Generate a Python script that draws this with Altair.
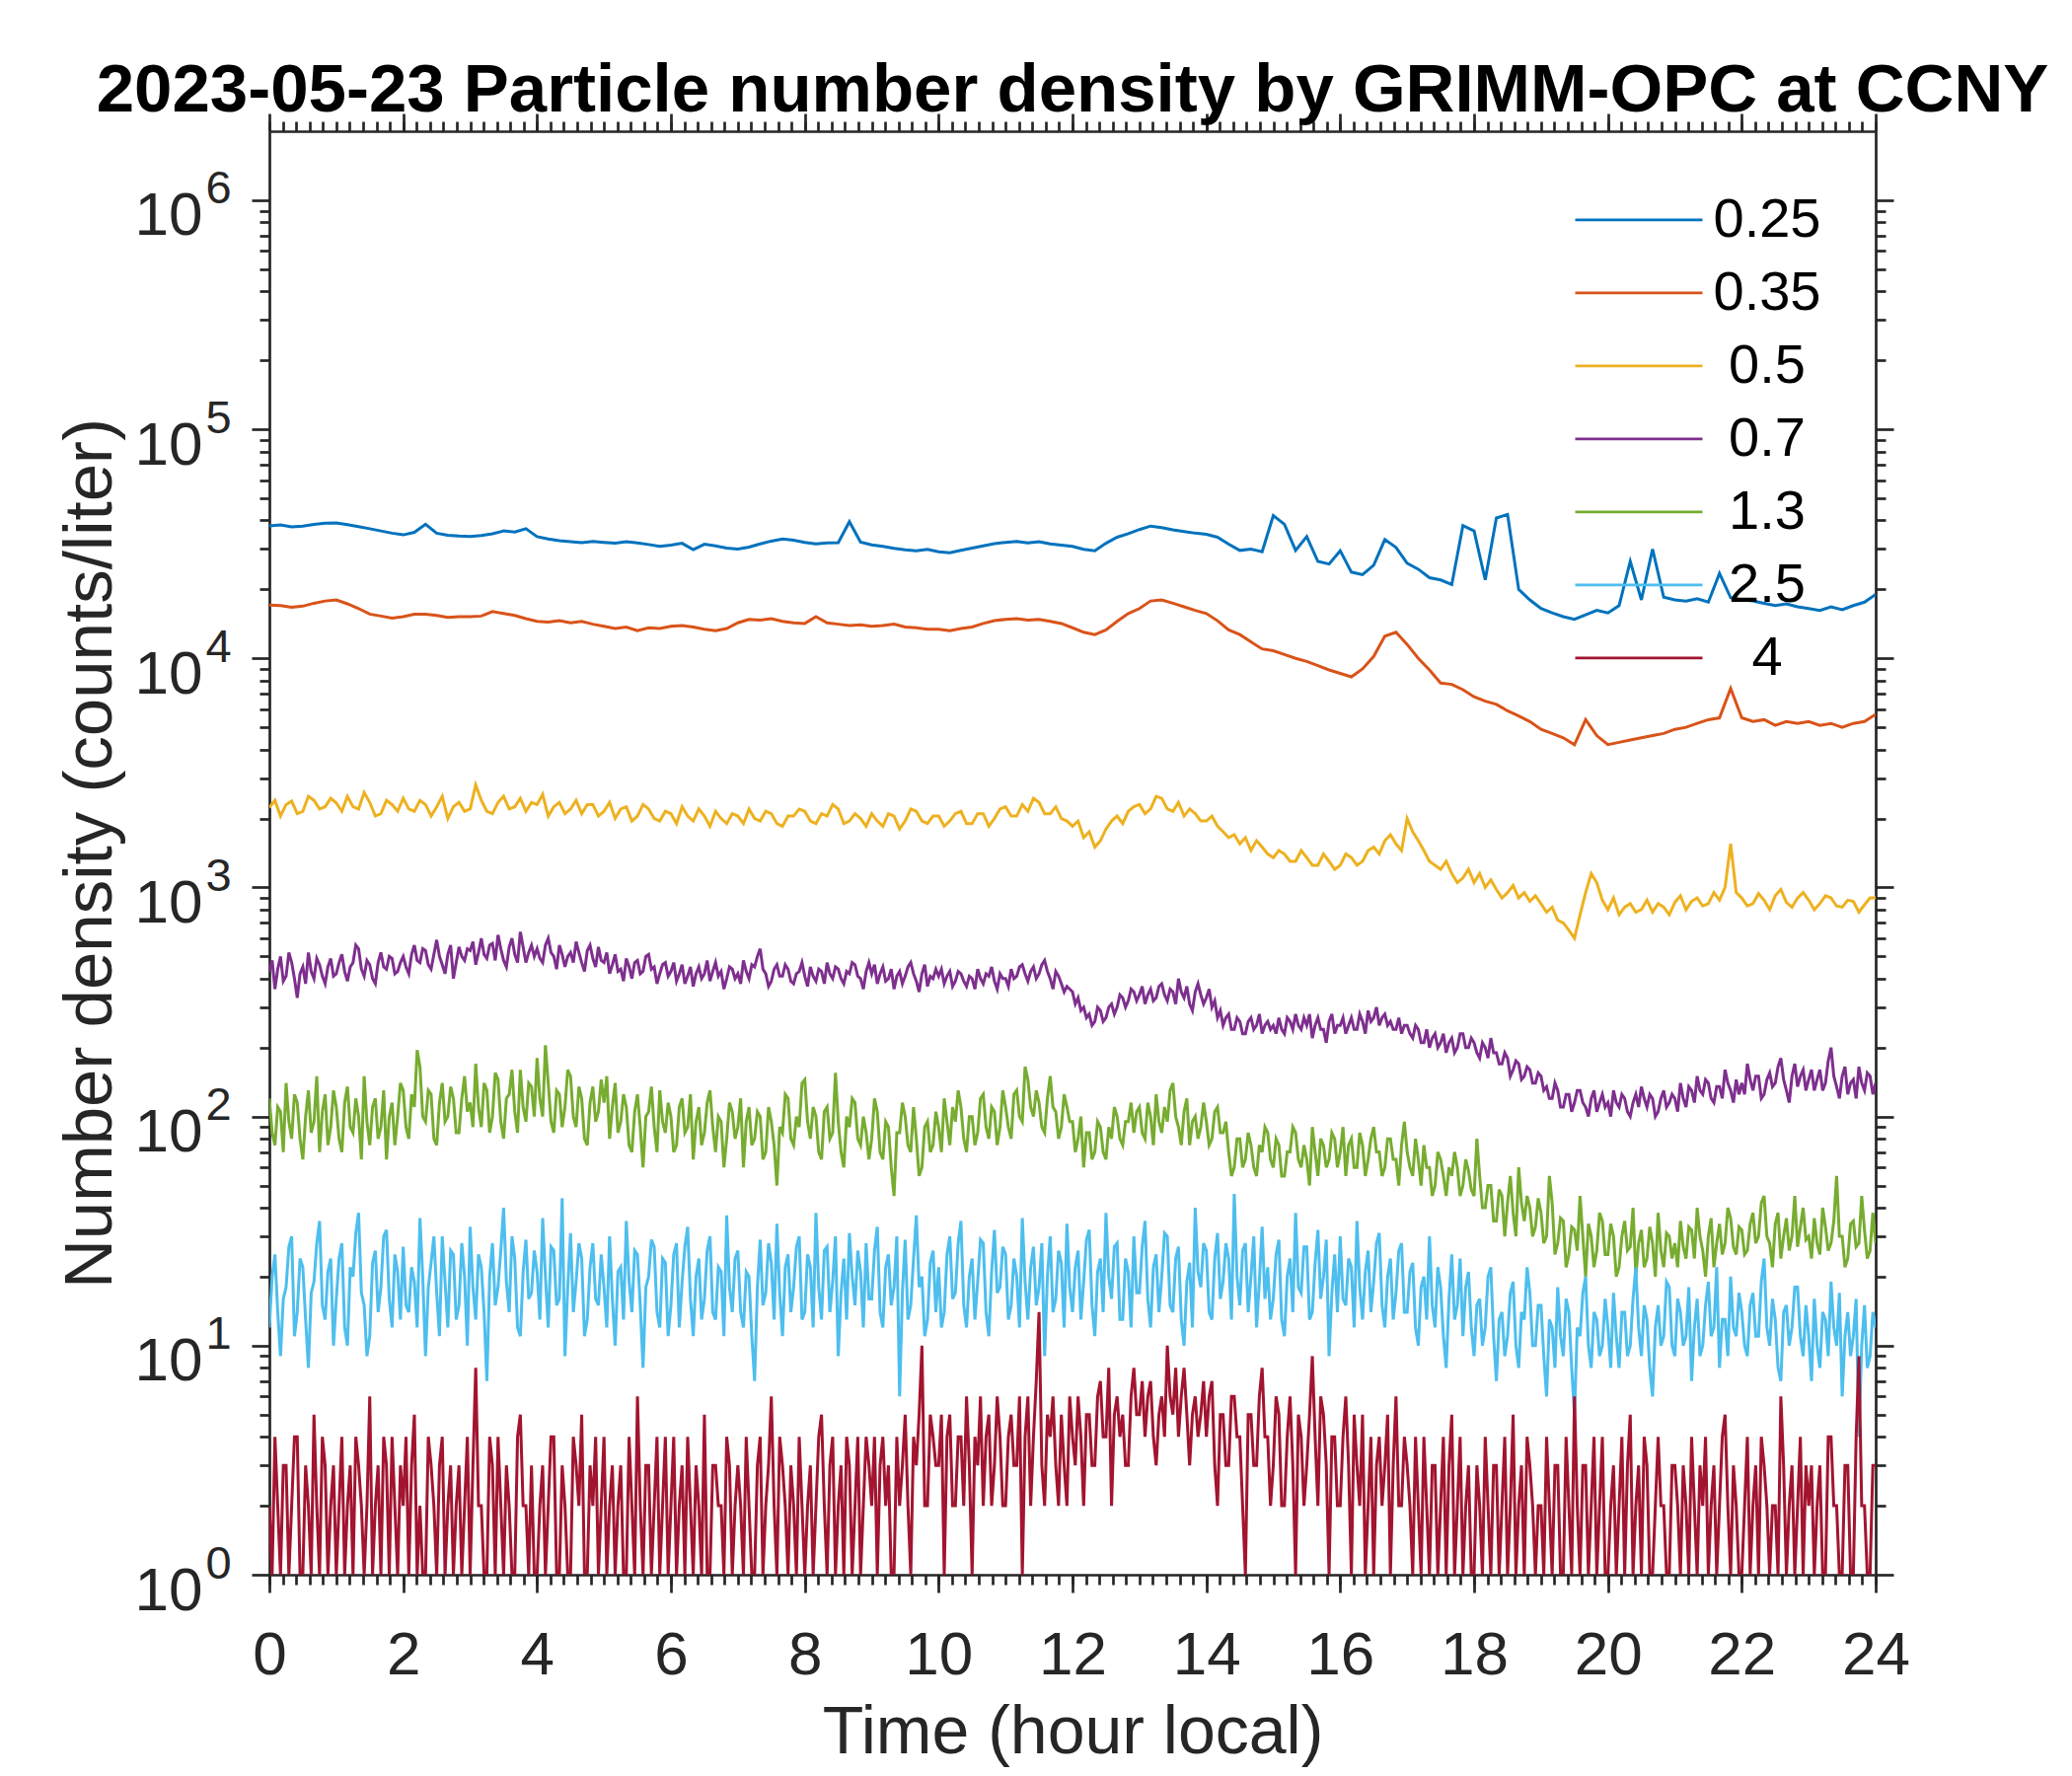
import altair as alt
import pandas as pd

FONT = "Liberation Sans"
DARK = "#262626"

sizes = ["0.25", "0.35", "0.5", "0.7", "1.3", "2.5", "4"]
colors = ["#0072BD", "#D95319", "#EDB120", "#7E2F8E", "#77AC30", "#4DBEEE", "#A2142F"]

# 0.25 um channel, 10-min samples from 0 to 24 h
s025 = [
    37900, 38200, 37500, 37800, 38400, 38900,
    39000, 38300, 37600, 36800, 36000, 35200,
    34600, 35500, 38500, 35200, 34500, 34200,
    34000, 34400, 35000, 36000, 35600, 36800,
    34000, 33200, 32600, 32300, 32000, 32400,
    32100, 31800, 32300, 31900, 31400, 30800,
    31200, 31800, 29800, 31500, 31000, 30300,
    30000, 30600, 31600, 32500, 33200, 32800,
    32100, 31600, 31900, 32000, 39500, 32200,
    31300, 30800, 30200, 29800, 29500, 29900,
    29200, 28900, 29600, 30300, 31000, 31700,
    32100, 32400, 31900, 32300, 31600, 31200,
    30800, 29900, 29500, 31800, 33800, 35000,
    36500, 37800, 37200, 36400, 35800, 35200,
    34800, 33800, 31500, 29600, 30000, 29200,
    42000, 38500, 29600, 34000, 26500, 25800,
    29500, 23800, 23200, 25500, 33000, 30500,
    26000, 24500, 22500, 22000, 21000, 38000,
    36000, 22000, 41000, 42500, 20000, 18000,
    16500, 15800, 15200, 14800, 15500, 16200,
    15800, 17000, 26500, 18000, 30000, 18500,
    18000, 17800, 18200, 17600, 23500, 18400,
    18000, 17800, 17400, 17000, 17300, 16800,
    16500, 16200, 16800, 16300, 17000, 17600,
    19000,
]

# 0.35 um channel, 10-min samples
s035 = [
    17100, 17000, 16700, 16900, 17400, 17800,
    18000, 17300, 16500, 15600, 15300, 15000,
    15200, 15600, 15600, 15400, 15100, 15200,
    15200, 15300, 16000, 15700, 15400, 14900,
    14500, 14400, 14600, 14300, 14500, 14100,
    13800, 13500, 13700, 13200, 13600, 13500,
    13800, 13900, 13700, 13400, 13200, 13500,
    14300, 14800, 14700, 14900, 14500, 14300,
    14200, 15200, 14300, 14100, 13900, 14000,
    13800, 13900, 14100, 13700, 13600, 13400,
    13400, 13200, 13500, 13700, 14200, 14600,
    14800, 14900, 14700, 14800, 14500, 14200,
    13600, 13000, 12700, 13300, 14500, 15700,
    16500, 17800, 18000, 17400, 16800, 16200,
    15700, 14600, 13300, 12700, 11800, 11000,
    10800, 10400, 10000, 9700, 9300, 8900,
    8600, 8300, 9000, 10200, 12500, 13000,
    11500, 10000, 8900, 7800, 7700, 7300,
    6800, 6500, 6300, 5900, 5600, 5300,
    4900, 4700, 4500, 4200, 5400, 4600,
    4200, 4300, 4400, 4500, 4600, 4700,
    4900, 5000, 5200, 5400, 5500, 7400,
    5500, 5300, 5400, 5100, 5300, 5200,
    5300, 5100, 5200, 5000, 5200, 5300,
    5700,
]

# 0.5 um channel, 5-min samples
s05 = [
    2230, 2400, 2050, 2300, 2380, 2100, 2150, 2500, 2400, 2200, 2250, 2450,
    2340, 2150, 2500, 2250, 2200, 2600, 2350, 2050, 2100, 2400, 2300, 2150,
    2450, 2200, 2150, 2400, 2300, 2050, 2250, 2500, 2000, 2250, 2350, 2150,
    2200, 2800, 2400, 2150, 2100, 2350, 2500, 2200, 2250, 2450, 2150, 2350,
    2300, 2550, 2050, 2250, 2350, 2100, 2200, 2400, 2100, 2300, 2300, 2050,
    2150, 2350, 2000, 2200, 2250, 1950, 2050, 2300, 2200, 2000, 1950, 2150,
    2100, 1900, 2250, 2050, 1950, 2200, 2050, 1850, 2150, 2000, 1900, 2100,
    2050, 1900, 2200, 2000, 1950, 2150, 2100, 1900, 1850, 2050, 2050, 2200,
    2150, 1950, 1900, 2100, 2050, 2300, 2200, 1900, 1950, 2100, 2000, 1850,
    2100, 1950, 1850, 2100, 2050, 1800, 1950, 2200, 2150, 1950, 1900, 2050,
    2050, 1850, 1950, 2100, 2150, 1900, 1900, 2100, 2100, 1850, 2000, 2200,
    2250, 2050, 2050, 2300, 2150, 2450, 2350, 2100, 2100, 2250, 2000, 1950,
    1850, 1950, 1650, 1750, 1500, 1600, 1800, 1950, 2050, 1900, 2150, 2250,
    2300, 2100, 2200, 2500, 2450, 2200, 2150, 2350, 2050, 2200, 2100, 1950,
    1950, 2050, 1850, 1750, 1650, 1700, 1550, 1650, 1450, 1600, 1500, 1400,
    1350, 1450, 1400, 1300, 1300, 1450, 1350, 1250, 1250, 1400, 1300, 1200,
    1250, 1400, 1350, 1250, 1300, 1450, 1500, 1400, 1600, 1700, 1550, 1450,
    2000, 1750, 1600, 1450, 1300, 1250, 1200, 1300, 1150, 1050, 1100, 1200,
    1050, 1150, 1000, 1080, 980, 900, 950, 1020, 900, 950, 870, 920,
    850, 780, 820, 720, 700, 650, 600, 760, 950, 1150, 1050, 880,
    800, 900, 760, 820, 850, 780, 800, 880, 780, 850, 820, 760,
    860, 920, 800, 870, 900, 830, 850, 950, 880, 1000, 1550, 950,
    900, 830, 850, 940, 880, 800, 920, 980, 860, 820, 900, 950,
    880, 800, 850, 920, 900, 830, 820, 880, 870, 780, 840, 900,
    900,
]

# 0.7 um channel, 2.5-min samples
s07 = [
    430, 480, 360, 440, 500, 390, 410, 520, 470, 400, 330, 420, 450, 380, 520, 430, 400, 490, 460, 410, 380, 450, 490, 410,
    420, 470, 510, 430, 390, 450, 470, 560, 540, 440, 410, 480, 460, 400, 380, 470, 520, 450, 440, 500, 490, 420, 430, 470,
    500, 450, 420, 510, 560, 480, 470, 540, 530, 460, 440, 510, 590, 500, 460, 420, 510, 560, 400, 470, 550, 500, 480, 540,
    530, 580, 460, 520, 600, 510, 490, 560, 570, 480, 620, 540, 480, 450, 550, 600, 510, 470, 640, 550, 470, 520, 560, 500,
    540, 490, 470, 560, 600, 520, 500, 440, 560, 510, 450, 500, 520, 470, 580, 520, 470, 430, 530, 560, 490, 450, 550, 480,
    470, 520, 420, 460, 510, 430, 440, 390, 490, 450, 400, 470, 480, 420, 430, 500, 510, 440, 450, 380, 420, 460, 470, 410,
    430, 470, 390, 420, 460, 380, 410, 450, 370, 420, 450, 400, 420, 480, 390, 430, 470, 410, 430, 360, 400, 450, 440, 400,
    420, 380, 480, 430, 400, 460, 450, 500, 540, 440, 420, 370, 390, 440, 460, 410, 410, 460, 440, 390, 380, 420, 430, 470,
    410, 370, 450, 410, 390, 440, 430, 380, 470, 420, 400, 450, 440, 400, 380, 430, 420, 470, 460, 410, 400, 360, 430, 470,
    420, 460, 380, 420, 450, 390, 400, 440, 360, 410, 430, 380, 410, 450, 470, 420, 390, 350, 420, 460, 370, 410, 400, 440,
    410, 440, 380, 410, 430, 370, 390, 430, 420, 390, 370, 410, 400, 360, 440, 400, 380, 420, 410, 450, 390, 360, 420, 400,
    400, 370, 440, 400, 410, 450, 460, 420, 390, 430, 450, 400, 420, 460, 480, 430, 400, 360, 430, 410, 380, 350, 370, 360,
    350, 310, 330, 290, 300, 270, 280, 250, 260, 300, 290, 260, 270, 300, 310, 280, 300, 340, 330, 300, 320, 360, 350, 320,
    340, 370, 310, 340, 360, 320, 330, 370, 380, 340, 320, 360, 350, 310, 400, 350, 330, 370, 310, 290, 350, 380, 340, 310,
    330, 360, 300, 320, 270, 290, 250, 270, 280, 240, 240, 270, 260, 230, 230, 260, 270, 240, 250, 280, 230, 250, 260, 240,
    250, 230, 270, 240, 230, 270, 260, 240, 280, 250, 240, 270, 250, 280, 220, 250, 270, 240, 240, 210, 260, 280, 230, 250,
    250, 270, 230, 250, 270, 240, 240, 280, 260, 230, 290, 260, 270, 300, 250, 270, 280, 250, 260, 240, 240, 270, 230, 250,
    250, 230, 220, 250, 240, 210, 210, 240, 200, 220, 230, 200, 210, 230, 190, 210, 220, 190, 200, 230, 230, 200, 200, 220,
    210, 190, 180, 210, 200, 180, 220, 190, 190, 170, 170, 190, 180, 150, 160, 175, 170, 145, 150, 165, 160, 140, 140, 155,
    150, 130, 135, 120, 120, 140, 130, 110, 110, 125, 125, 105, 115, 130, 130, 115, 110, 100, 120, 130, 105, 115, 125, 110,
    115, 100, 130, 115, 110, 125, 120, 105, 100, 115, 125, 110, 135, 120, 110, 125, 120, 100, 105, 120, 130, 110, 115, 125,
    120, 105, 140, 120, 110, 135, 130, 115, 150, 130, 125, 145, 140, 120, 115, 135, 135, 120, 160, 140, 130, 115, 145, 125,
    140, 125, 170, 145, 130, 150, 150, 120, 125, 145, 155, 135, 140, 165, 180, 145, 130, 115, 150, 170, 135, 150, 160, 130,
    145, 160, 130, 145, 160, 130, 140, 175, 200, 150, 135, 120, 150, 165, 125, 140, 145, 120, 165, 140, 130, 155, 150, 125,
    140,
]

# 1.3 um channel, 2.5-min samples
s13 = [
    120, 85, 75, 110, 105, 70, 140, 95, 80, 125, 115, 80, 65, 100, 130, 85, 95, 150, 70, 105, 125, 75, 90, 130,
    110, 80, 70, 115, 135, 90, 85, 120, 100, 65, 150, 95, 75, 110, 120, 80, 90, 130, 65, 100, 115, 75, 100, 140,
    130, 90, 80, 125, 110, 195, 165, 100, 95, 130, 125, 80, 75, 115, 140, 95, 100, 135, 120, 85, 85, 120, 150, 105,
    115, 90, 170, 110, 90, 140, 130, 85, 100, 155, 145, 95, 80, 120, 125, 160, 105, 85, 160, 110, 95, 140, 135, 100,
    180, 120, 100, 205, 140, 95, 85, 130, 125, 90, 110, 160, 150, 100, 90, 135, 120, 80, 75, 115, 135, 95, 105, 145,
    115, 150, 80, 110, 140, 85, 95, 125, 110, 75, 70, 105, 125, 90, 60, 100, 105, 135, 90, 70, 130, 95, 85, 115,
    100, 70, 75, 110, 120, 85, 90, 125, 65, 95, 110, 75, 85, 115, 130, 90, 70, 100, 95, 60, 80, 115, 105, 80,
    90, 120, 60, 95, 110, 75, 80, 105, 100, 65, 70, 110, 95, 75, 50, 90, 85, 125, 120, 80, 75, 100, 90, 140,
    145, 95, 80, 110, 100, 70, 65, 105, 110, 80, 85, 155, 95, 70, 60, 100, 90, 120, 115, 80, 75, 100, 85, 65,
    80, 120, 105, 70, 65, 95, 90, 60, 45, 85, 85, 115, 100, 75, 70, 110, 80, 55, 60, 90, 95, 70, 75, 105,
    90, 70, 120, 95, 75, 110, 95, 130, 110, 80, 70, 100, 100, 75, 85, 120, 125, 90, 80, 110, 105, 75, 90, 130,
    110, 90, 80, 125, 130, 100, 95, 165, 145, 110, 100, 130, 115, 90, 85, 120, 150, 110, 105, 80, 90, 125, 110, 95,
    95, 70, 80, 100, 60, 85, 85, 65, 70, 95, 90, 70, 65, 90, 80, 110, 100, 80, 75, 95, 95, 115, 85, 105,
    110, 85, 80, 115, 100, 75, 125, 95, 85, 110, 95, 130, 140, 100, 90, 75, 105, 120, 75, 95, 100, 80, 90, 115,
    95, 75, 80, 105, 110, 85, 85, 95, 70, 55, 60, 80, 80, 60, 65, 85, 75, 60, 55, 75, 70, 90, 85, 65,
    60, 80, 75, 55, 55, 70, 70, 90, 85, 65, 60, 75, 65, 50, 90, 70, 55, 80, 75, 60, 65, 85, 80, 60,
    70, 90, 55, 75, 80, 60, 60, 85, 75, 55, 65, 80, 90, 70, 70, 55, 60, 80, 80, 65, 65, 50, 75, 95,
    70, 60, 55, 80, 65, 50, 75, 60, 60, 45, 50, 70, 65, 55, 45, 60, 55, 70, 60, 45, 50, 65, 58, 48,
    45, 80, 55, 40, 40, 50, 50, 35, 35, 48, 45, 30, 42, 55, 38, 30, 60, 42, 35, 45, 40, 30, 33, 44,
    38, 28, 30, 55, 42, 25, 28, 36, 35, 22, 25, 33, 32, 26, 45, 30, 20, 34, 30, 22, 26, 38, 35, 25,
    25, 34, 30, 20, 22, 30, 35, 26, 27, 40, 20, 28, 32, 22, 24, 33, 28, 20, 38, 26, 22, 31, 30, 24,
    28, 22, 35, 27, 24, 33, 32, 24, 40, 30, 26, 20, 30, 36, 22, 28, 34, 25, 28, 40, 36, 27, 25, 33,
    32, 25, 26, 34, 38, 28, 30, 42, 45, 30, 28, 22, 34, 38, 24, 30, 36, 26, 30, 45, 27, 33, 40, 29,
    30, 24, 36, 28, 25, 40, 33, 26, 28, 35, 55, 30, 30, 22, 24, 34, 35, 27, 28, 45, 32, 24, 26, 38,
    28,
]

# 2.5 um channel, 2.5-min samples
s25 = [
    12, 20, 25, 14, 9, 16, 18, 27, 30, 11, 14, 24, 22, 13, 8, 17, 19, 28, 35, 15, 13, 21, 24, 10,
    16, 24, 28, 12, 10, 22, 20, 31, 38, 17, 15, 9, 11, 23, 26, 14, 18, 30, 32, 16, 12, 25, 21, 13,
    27, 15, 14, 22, 19, 12, 36, 20, 9, 18, 23, 30, 17, 11, 30, 19, 12, 26, 25, 13, 15, 28, 20, 10,
    33, 18, 13, 25, 22, 14, 7, 20, 28, 15, 18, 26, 40, 19, 14, 30, 24, 12, 11, 21, 29, 16, 17, 26,
    21, 13, 36, 20, 12, 27, 26, 15, 16, 44, 9, 18, 31, 14, 19, 28, 24, 11, 13, 22, 28, 16, 15, 25,
    18, 12, 30, 16, 10, 21, 22, 13, 35, 19, 14, 26, 25, 15, 8, 18, 20, 29, 27, 14, 12, 24, 23, 11,
    15, 25, 28, 12, 19, 27, 33, 16, 11, 20, 24, 13, 16, 26, 30, 14, 13, 22, 21, 11, 37, 18, 14, 24,
    26, 14, 12, 21, 20, 11, 7, 18, 29, 15, 17, 28, 23, 13, 34, 17, 11, 22, 25, 14, 18, 27, 30, 13,
    14, 25, 22, 12, 38, 18, 13, 26, 27, 14, 19, 30, 9, 17, 24, 13, 31, 20, 15, 26, 21, 12, 28, 16,
    16, 26, 33, 14, 12, 22, 25, 15, 18, 30, 6, 17, 29, 13, 15, 24, 37, 18, 20, 11, 13, 23, 26, 14,
    22, 12, 14, 25, 30, 16, 17, 28, 35, 15, 12, 20, 24, 13, 19, 29, 28, 14, 11, 21, 32, 17, 18, 27,
    25, 13, 15, 24, 20, 12, 36, 19, 13, 22, 27, 15, 18, 28, 9, 20, 30, 14, 16, 26, 23, 12, 34, 18,
    14, 22, 26, 13, 19, 29, 32, 15, 11, 21, 24, 14, 38, 20, 16, 27, 28, 13, 13, 24, 21, 12, 30, 17,
    17, 27, 35, 16, 12, 22, 25, 14, 20, 31, 30, 15, 14, 24, 27, 13, 10, 19, 23, 12, 40, 21, 18, 28,
    26, 14, 13, 24, 31, 16, 19, 28, 24, 13, 46, 20, 15, 26, 28, 14, 20, 30, 12, 19, 33, 16, 22, 13,
    16, 25, 29, 13, 11, 20, 24, 14, 38, 18, 17, 27, 27, 13, 14, 23, 32, 16, 20, 29, 9, 17, 25, 14,
    30, 16, 15, 24, 22, 12, 35, 18, 13, 21, 26, 14, 19, 28, 31, 15, 12, 20, 24, 13, 17, 26, 28, 14,
    14, 21, 23, 12, 10, 18, 20, 13, 30, 15, 12, 22, 18, 11, 8, 16, 25, 13, 15, 24, 11, 18, 21, 12,
    9, 15, 16, 10, 12, 20, 22, 11, 7, 13, 14, 9, 11, 17, 19, 10, 8, 14, 13, 22, 17, 10, 10, 15,
    15, 9, 6, 13, 12, 8, 18, 11, 9, 16, 14, 8, 5, 12, 11, 17, 20, 10, 8, 14, 13, 9, 10, 16,
    12, 8, 17, 11, 8, 14, 14, 9, 10, 16, 22, 12, 9, 15, 13, 8, 6, 12, 15, 10, 11, 19, 18, 10,
    9, 16, 14, 10, 11, 18, 7, 12, 16, 9, 10, 15, 19, 11, 12, 22, 8, 13, 13, 9, 20, 12, 11, 17,
    14, 10, 9, 15, 17, 11, 11, 19, 24, 12, 10, 16, 13, 8, 7, 14, 15, 10, 12, 18, 18, 11, 9, 15,
    11, 7, 16, 10, 8, 14, 13, 9, 19, 12, 10, 17, 6, 11, 14, 9, 11, 16, 4, 10, 15, 8, 9, 14,
    12,
]

# 4 um channel, 2.5-min samples
s4 = [
    2, 1, 4, 2, 1, 3, 3, 1, 2, 4, 4, 1, 1, 3, 2, 1, 5, 2, 1, 4, 3, 1, 2, 3,
    1, 2, 4, 1, 2, 3, 1, 4, 3, 2, 1, 2, 6, 1, 2, 3, 1, 4, 3, 1, 4, 2, 1, 3,
    2, 4, 1, 3, 5, 1, 2, 1, 1, 4, 3, 2, 1, 3, 4, 1, 2, 3, 1, 2, 3, 1, 2, 4,
    1, 3, 8, 2, 2, 1, 1, 4, 3, 1, 4, 2, 1, 3, 2, 1, 1, 4, 5, 2, 2, 1, 3, 1,
    1, 2, 3, 1, 2, 4, 4, 1, 1, 3, 2, 1, 1, 4, 3, 2, 5, 1, 1, 3, 2, 4, 1, 2,
    4, 1, 2, 3, 1, 2, 3, 1, 1, 4, 2, 1, 6, 2, 1, 3, 3, 1, 2, 4, 1, 2, 4, 1,
    2, 4, 1, 2, 3, 1, 4, 2, 1, 3, 2, 1, 5, 1, 1, 3, 3, 2, 2, 1, 4, 3, 1, 2,
    3, 2, 1, 4, 2, 1, 1, 3, 4, 1, 2, 3, 6, 2, 1, 4, 3, 2, 1, 3, 2, 1, 4, 2,
    1, 2, 3, 1, 2, 4, 5, 2, 1, 3, 4, 1, 2, 3, 1, 4, 3, 1, 2, 4, 1, 2, 4, 3,
    2, 4, 1, 3, 4, 2, 3, 1, 1, 4, 2, 3, 5, 2, 1, 4, 3, 5, 10, 2, 2, 5, 4, 3,
    3, 5, 1, 4, 5, 2, 2, 4, 4, 2, 6, 3, 1, 4, 3, 6, 2, 4, 5, 2, 3, 6, 4, 2,
    2, 4, 5, 3, 3, 6, 1, 4, 6, 2, 4, 7, 14, 3, 2, 5, 4, 6, 3, 2, 5, 3, 2, 6,
    4, 3, 6, 4, 2, 5, 5, 3, 3, 6, 7, 4, 4, 8, 2, 5, 6, 4, 5, 3, 3, 6, 8, 5,
    5, 7, 4, 6, 7, 4, 3, 5, 6, 4, 10, 6, 5, 8, 4, 6, 8, 5, 3, 5, 6, 4, 5, 7,
    4, 6, 7, 3, 2, 5, 5, 3, 3, 6, 6, 4, 4, 2, 1, 5, 5, 3, 3, 6, 8, 4, 4, 2,
    3, 6, 5, 2, 2, 4, 6, 3, 1, 5, 4, 2, 3, 5, 9, 4, 2, 6, 5, 3, 1, 4, 4, 2,
    2, 4, 6, 3, 1, 5, 3, 2, 5, 1, 2, 4, 1, 3, 4, 2, 3, 5, 1, 3, 6, 2, 2, 4,
    3, 2, 1, 4, 2, 1, 4, 2, 1, 3, 3, 1, 2, 4, 1, 3, 5, 1, 2, 4, 1, 2, 3, 1,
    1, 3, 2, 1, 4, 2, 1, 3, 3, 1, 2, 4, 1, 2, 5, 1, 2, 3, 1, 4, 3, 2, 1, 2,
    2, 1, 4, 2, 1, 3, 3, 1, 1, 4, 2, 1, 6, 2, 1, 3, 3, 1, 2, 4, 1, 2, 4, 1,
    1, 2, 3, 1, 2, 4, 1, 3, 5, 1, 2, 3, 1, 4, 3, 1, 1, 2, 4, 2, 2, 1, 1, 3,
    3, 2, 1, 3, 2, 1, 4, 2, 1, 3, 2, 4, 1, 2, 3, 1, 2, 4, 5, 2, 1, 3, 2, 1,
    1, 2, 4, 1, 2, 3, 1, 4, 3, 2, 1, 2, 2, 1, 6, 3, 1, 2, 3, 1, 2, 4, 1, 3,
    2, 3, 1, 2, 3, 1, 1, 4, 4, 2, 2, 1, 1, 3, 3, 1, 1, 4, 9, 2, 2, 1, 1, 3,
    3,
]

x_major = list(range(0, 25, 2))
x_minor = [round(i * 0.2, 1) for i in range(121)]
y_major = [1, 10, 100, 1000, 10000, 100000, 1000000]
y_minor = [m * 10 ** k for k in range(6) for m in range(2, 10)]

values_by_size = [s025, s035, s05, s07, s13, s25, s4]
frames = []
for name, vals in zip(sizes, values_by_size):
    n = len(vals)
    # samples are evenly spaced over the 24 h day
    hrs = [i * 24.0 / (n - 1) for i in range(n)]
    frames.append(pd.DataFrame({"hour": hrs, "value": vals, "size": name}))
df = pd.concat(frames, ignore_index=True)

xscale = alt.Scale(domain=[0, 24], nice=False, zero=False)
yscale = alt.Scale(type="log", domain=[1, 2000000], nice=False)

common_axis = dict(grid=False, tickColor=DARK, domainColor=DARK, tickWidth=2.7,
                   domainWidth=2.7, labelFont=FONT, titleFont=FONT)


def tick_axis(orient, values, size, domain):
    return alt.Axis(orient=orient, values=values, tickSize=size, labels=False,
                    domain=domain, title=None, **common_axis)


lines = alt.Chart(df).mark_line(strokeWidth=3, clip=True).encode(
    x=alt.X("hour:Q", scale=xscale, axis=alt.Axis(
        orient="bottom", values=x_major, format="d", tickSize=18,
        labelFontSize=62, labelColor=DARK, labelPadding=33, labelFlush=False,
        labelOverlap=False, title="Time (hour local)", titleFontSize=68,
        titleFontWeight="normal", titleColor=DARK, titlePadding=14, **common_axis)),
    y=alt.Y("value:Q", scale=yscale, axis=alt.Axis(
        orient="left", values=y_major, labelExpr="'10'", tickSize=18,
        labelFontSize=62, labelColor=DARK, labelPadding=50, labelFlush=False,
        labelOverlap=False, labelBaseline="alphabetic", labelOffset=35,
        title="Number density (counts/liter)", titleFontSize=69,
        titleFontWeight="normal", titleColor=DARK, titlePadding=10, **common_axis)),
    color=alt.Color("size:N", sort=sizes, scale=alt.Scale(domain=sizes, range=colors),
                    legend=alt.Legend(
                        orient="none", legendX=1322, legendY=53, title=None,
                        symbolType="stroke", symbolSize=16641, symbolStrokeWidth=2.6,
                        clipHeight=73.7, rowPadding=0, padding=0,
                        labelFont=FONT, labelFontSize=56, labelColor="black",
                        labelAlign="center", labelOffset=64, labelLimit=400)),
)

base = alt.Chart(df).mark_line(strokeOpacity=0, clip=True)

minor_bl = base.encode(
    x=alt.X("hour:Q", scale=xscale, axis=tick_axis("bottom", x_minor, 10, False)),
    y=alt.Y("value:Q", scale=yscale, axis=tick_axis("left", y_minor, 10, False)),
)
major_tr = base.encode(
    x=alt.X("hour:Q", scale=xscale, axis=tick_axis("top", x_major, 18, True)),
    y=alt.Y("value:Q", scale=yscale, axis=tick_axis("right", y_major, 18, True)),
)
minor_tr = base.encode(
    x=alt.X("hour:Q", scale=xscale, axis=tick_axis("top", x_minor, 10, False)),
    y=alt.Y("value:Q", scale=yscale, axis=tick_axis("right", y_minor, 10, False)),
)
exponents = base.encode(
    x=alt.X("hour:Q", scale=xscale, axis=None),
    y=alt.Y("value:Q", scale=yscale, axis=alt.Axis(
        orient="left", values=y_major,
        labelExpr="'' + round(log(datum.value) / LN10)",
        ticks=False, tickSize=0, domain=False, grid=False, title=None,
        labelFont=FONT, labelFontSize=47, labelColor=DARK, labelPadding=65,
        labelAlign="left", labelBaseline="alphabetic", labelOffset=3,
        labelFlush=False, labelOverlap=False)),
)

chart = alt.layer(lines, minor_bl, major_tr, minor_tr, exponents).resolve_scale(
    x="shared", y="shared"
).resolve_axis(
    x="independent", y="independent"
).properties(
    width=1628,
    height=1463,
    title=alt.TitleParams(
        "2023-05-23 Particle number density by GRIMM-OPC at CCNY",
        font=FONT, fontSize=69, fontWeight="bold", color="black",
        anchor="middle", frame="group", baseline="alphabetic", offset=18, dy=86),
    autosize=alt.AutoSizeParams(type="none"),
    padding={"left": 265, "top": 125, "right": 191, "bottom": 196},
).configure_view(stroke=None).configure(background="white")

chart.save("out.html", embed_options={"renderer": "svg", "actions": False})
